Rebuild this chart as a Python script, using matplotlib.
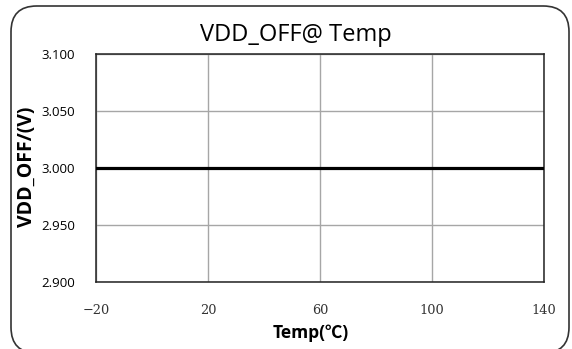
import matplotlib
matplotlib.use("Agg")
import matplotlib.pyplot as plt
from matplotlib.patches import FancyBboxPatch

temps = [-20, 0, 25, 85, 140]
vdd_off = [3.000, 3.000, 3.000, 3.000, 3.000]
x_ticks = [-20, 20, 60, 100, 140]
y_ticks = [2.900, 2.950, 3.000, 3.050, 3.100]
title = "VDD_OFF@ Temp"
xlabel = "Temp(℃)"
ylabel = "VDD_OFF/(V)"

W, H = 572, 349
fig = plt.figure(figsize=(W / 100, H / 100), dpi=100)
fig.patch.set_facecolor("white")

# rounded outer border (bottom edge runs just past the image)
border = FancyBboxPatch((11 / W, 1 - 353 / H), (569 - 11) / W, (353 - 6) / H,
                        boxstyle="round,pad=0,rounding_size=0.045",
                        transform=fig.transFigure, facecolor="white",
                        edgecolor="#333333", linewidth=1.2, mutation_aspect=W / H,
                        zorder=-5)
fig.patches.append(border)

ax = fig.add_axes([96 / W, 1 - 281.7 / H, (544 - 96) / W, (281.7 - 53.7) / H])
ax.set_zorder(2)
ax.set_facecolor("white")
ax.plot(temps, vdd_off, color="black", linewidth=2.3, zorder=3)
ax.set_xlim(-20, 140)
ax.set_ylim(2.9, 3.1)
ax.set_xticks(x_ticks)
ax.set_yticks(y_ticks)
ax.set_xticklabels([f"{t}".replace("-", "\u2212") for t in x_ticks],
                   family=["DejaVu Serif"], fontsize=9.3, color="#333333")
ax.set_yticklabels([f"{v:.3f}" for v in y_ticks], family=["Open Sans"], fontsize=9.5)
ax.tick_params(axis="both", length=0)
ax.tick_params(axis="y", pad=15)
ax.tick_params(axis="x", pad=16)
ax.grid(True, color="#a6a6a6", linewidth=1.0)
ax.set_axisbelow(True)
for s in ax.spines.values():
    s.set_color("#222222")
    s.set_linewidth(1.1)

fig.text(296 / W, 1 - 35 / H, title, ha="center", va="center",
         family=["Open Sans"], fontsize=17, zorder=3)
fig.text(311 / W, 1 - 333 / H, xlabel, ha="center", va="center",
         family=["Open Sans", "Noto Sans CJK SC"], fontsize=12.5, fontweight="bold", zorder=3)
fig.text(27 / W, 1 - 167 / H, ylabel, ha="center", va="center", rotation=90,
         family=["Open Sans"], fontsize=14, fontweight="bold", zorder=3)

fig.savefig("out.png", dpi=100)
